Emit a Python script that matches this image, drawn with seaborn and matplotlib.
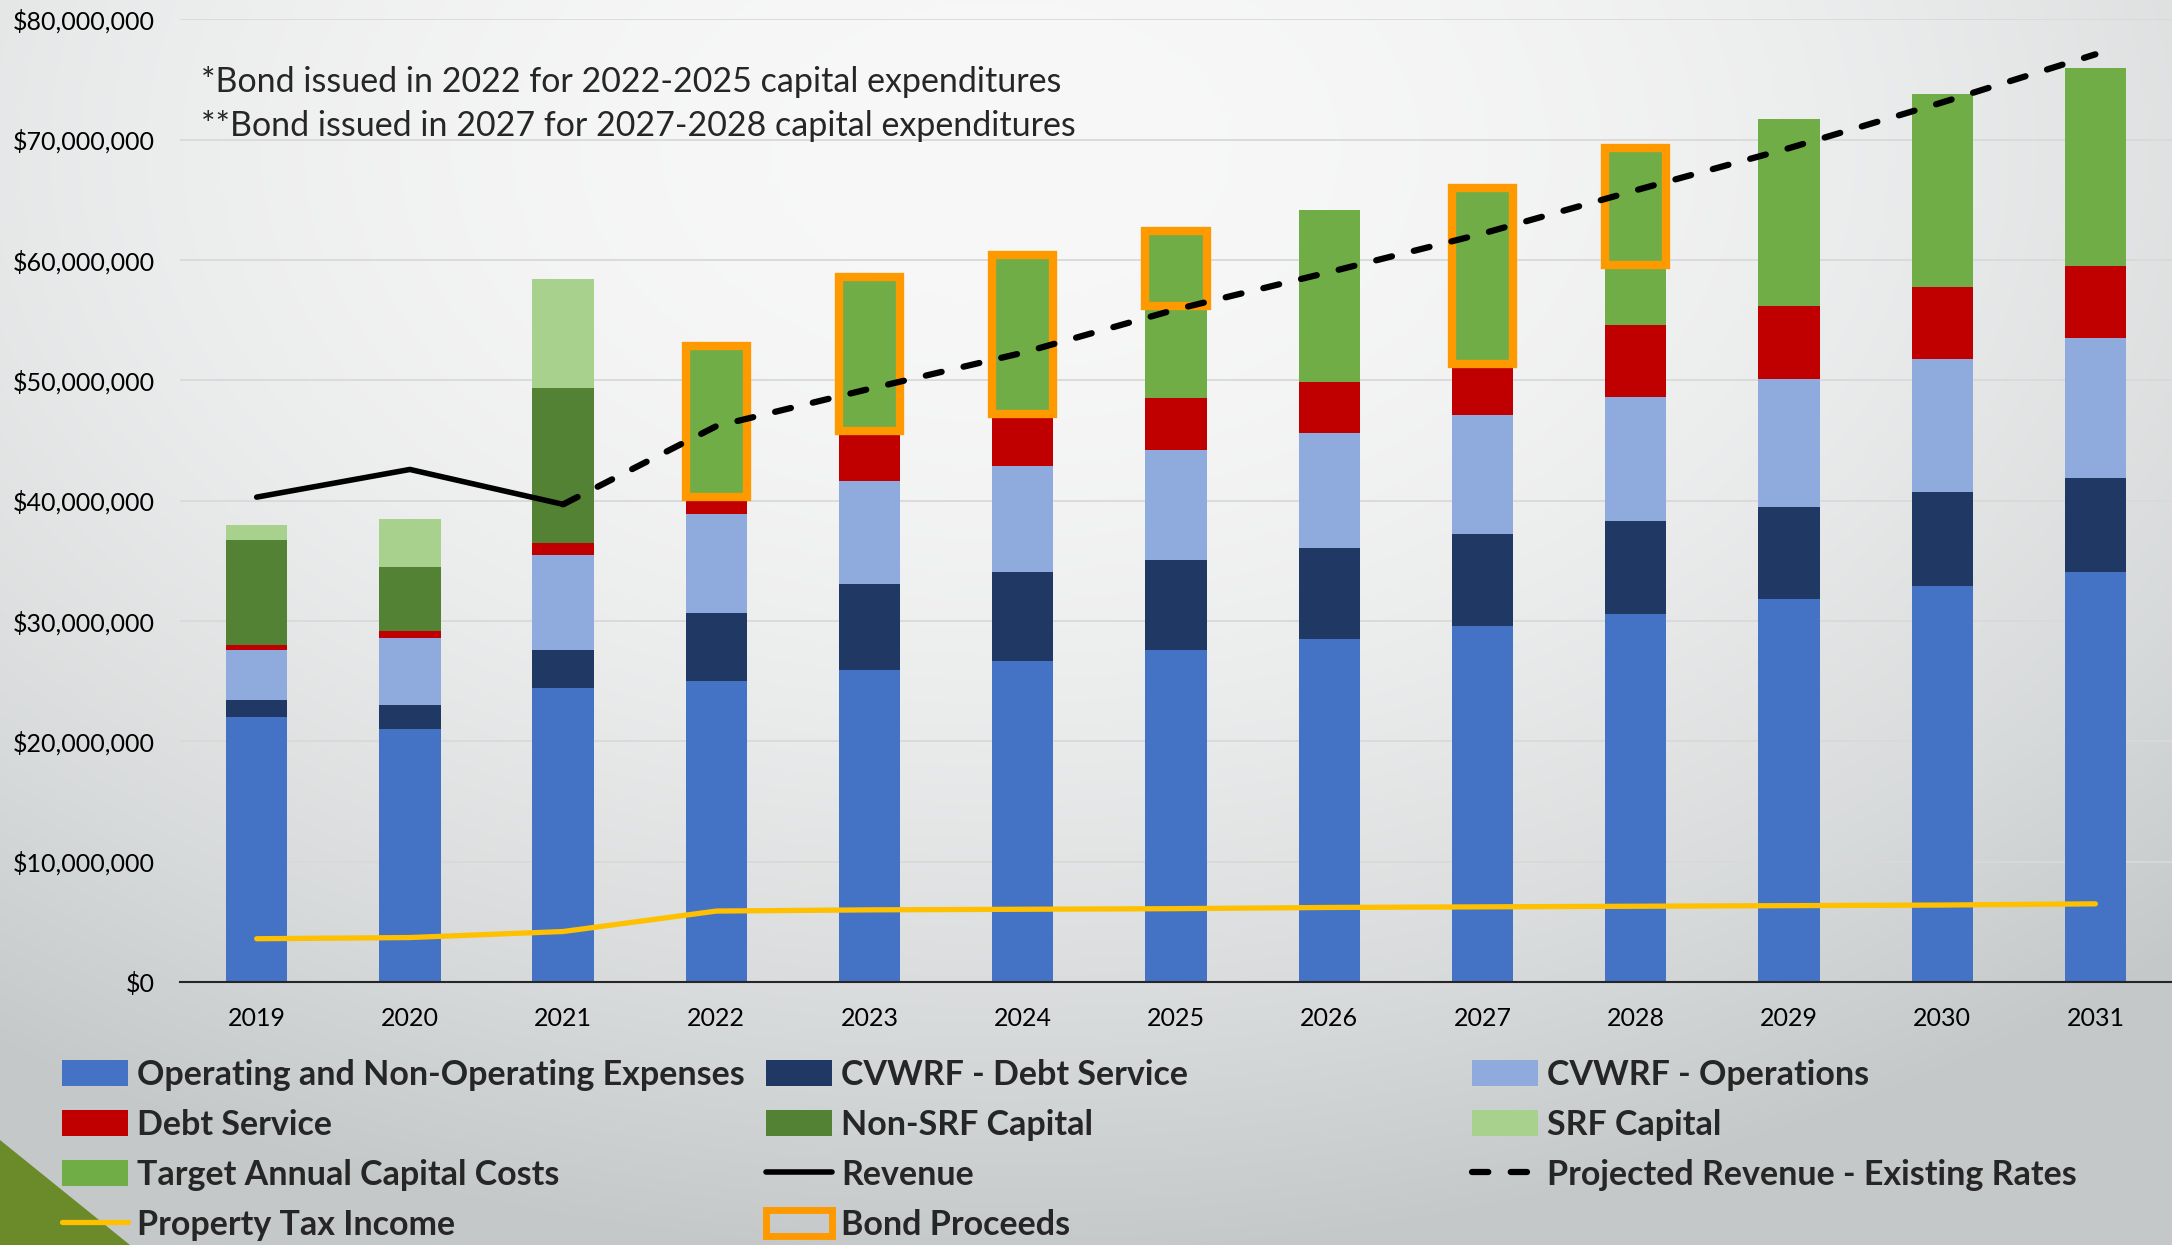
import numpy as np
import pandas as pd
import matplotlib
matplotlib.use("Agg")
import matplotlib.pyplot as plt
import seaborn as sns
from matplotlib.patches import Patch, Polygon
from matplotlib.lines import Line2D
from matplotlib.ticker import FuncFormatter

# ---- data (values in $ millions) ----
years = ["2019", "2020", "2021", "2022", "2023", "2024", "2025",
         "2026", "2027", "2028", "2029", "2030", "2031"]
ops_expenses = [22.0, 21.0, 24.4, 25.0, 25.9, 26.7, 27.6, 28.5, 29.6, 30.6, 31.8, 32.9, 34.1]
cvwrf_debt = [1.4, 2.0, 3.2, 5.7, 7.2, 7.4, 7.5, 7.6, 7.6, 7.7, 7.7, 7.8, 7.8]
cvwrf_ops = [4.2, 5.6, 7.9, 8.2, 8.5, 8.8, 9.1, 9.5, 9.9, 10.3, 10.6, 11.1, 11.6]
debt_service = [0.4, 0.6, 1.0, 1.4, 4.2, 4.3, 4.3, 4.3, 4.3, 6.0, 6.1, 6.0, 6.0]
non_srf_capital = [8.7, 5.3, 12.9, 0, 0, 0, 0, 0, 0, 0, 0, 0, 0]
srf_capital = [1.3, 4.0, 9.0, 0, 0, 0, 0, 0, 0, 0, 0, 0, 0]
target_capital = [0, 0, 0, 12.6, 12.8, 13.2, 13.9, 14.3, 14.6, 14.7, 15.5, 16.0, 16.5]
bond_proceeds = [0, 0, 0, 12.6, 12.8, 13.2, 6.2, 0, 14.6, 9.7, 0, 0, 0]
revenue = [40.3, 42.6, 39.7, None, None, None, None, None, None, None, None, None, None]
projected_revenue = [None, None, 39.7, 46.2, 49.3, 52.3, 55.9, 59.0, 62.2, 65.8, 69.3, 73.1, 77.1]
property_tax = [3.6, 3.7, 4.2, 5.9, 6.0, 6.05, 6.1, 6.2, 6.25, 6.3, 6.35, 6.4, 6.5]

notes = ["*Bond issued in 2022 for 2022-2025 capital expenditures",
         "**Bond issued in 2027 for 2027-2028 capital expenditures"]

stack_cols = ["Operating and Non-Operating Expenses", "CVWRF - Debt Service", "CVWRF - Operations",
              "Debt Service", "Non-SRF Capital", "SRF Capital", "Target Annual Capital Costs"]
stack_colors = ["#4472C4", "#1F3864", "#8FAADC", "#C00000", "#548235", "#A9D18E", "#70AD47"]
bond_color = "#FF9900"
tax_color = "#FFC000"

df = pd.DataFrame({"year": years,
                   stack_cols[0]: ops_expenses, stack_cols[1]: cvwrf_debt, stack_cols[2]: cvwrf_ops,
                   stack_cols[3]: debt_service, stack_cols[4]: non_srf_capital, stack_cols[5]: srf_capital,
                   stack_cols[6]: target_capital})
df["pos"] = np.arange(len(years))
cum = df[stack_cols].cumsum(axis=1) * 1e6
total = cum[stack_cols[-1]]

lines_df = pd.DataFrame({"pos": df["pos"],
                         "revenue": pd.to_numeric(pd.Series(revenue), errors="coerce") * 1e6,
                         "projected": pd.to_numeric(pd.Series(projected_revenue), errors="coerce") * 1e6,
                         "tax": np.array(property_tax) * 1e6})

# ---- style ----
sns.set_style("white")
plt.rcParams["font.family"] = ["Lato", "DejaVu Sans"]

fig = plt.figure(figsize=(21.72, 12.45), dpi=100)

# background gradient + corner triangle
W, H = 2172, 1245
yy, xx = np.mgrid[0:H, 0:W]
d = np.sqrt(((xx - 1000) / 1700.0) ** 2 + ((yy - 150) / 1100.0) ** 2)
t = np.clip(d, 0, 1) ** 2
light = np.array([0.972, 0.972, 0.972])
dark = np.array([0.773, 0.788, 0.792])
img = light + (dark - light) * t[..., None]
bg = fig.add_axes([0, 0, 1, 1], zorder=0)
bg.imshow(img, extent=[0, 1, 0, 1], aspect="auto", origin="upper")
bg.add_patch(Polygon([(0, 0), (0, 105 / 1245), (130 / 2172, 0)], closed=True,
                     facecolor="#6B8A2A", edgecolor="none", transform=bg.transAxes))
bg.axis("off")

ax = fig.add_axes([0.0829, 0.2112, 0.9171, 0.7732], zorder=1)
ax.set_facecolor("none")

# stacked bars: draw cumulative totals from top layer down
for col, color in reversed(list(zip(stack_cols, stack_colors))):
    sns.barplot(x=df["year"], y=cum[col], color=color, width=0.4, saturation=1,
                errorbar=None, linewidth=0, ax=ax)

# bond proceeds outlines
bond = np.array(bond_proceeds) * 1e6
mask = bond > 0
ax.bar(df["pos"][mask], bond[mask], bottom=(total - bond)[mask], width=0.4,
       fill=False, edgecolor=bond_color, linewidth=6, zorder=3)

# lines
sns.lineplot(data=lines_df.dropna(subset=["revenue"]), x="pos", y="revenue", color="black",
             linewidth=4, legend=False, ax=ax, zorder=4)
sns.lineplot(data=lines_df.dropna(subset=["projected"]), x="pos", y="projected", color="black",
             linewidth=4.5, legend=False, ax=ax, zorder=4)
proj_line = ax.lines[-1]
proj_line.set_dashes([2.6, 3.6])
proj_line.set_dash_capstyle("round")
sns.lineplot(data=lines_df, x="pos", y="tax", color=tax_color, linewidth=3.8,
             legend=False, ax=ax, zorder=4)

ax.set_xlim(-0.5, 12.5)
ax.set_ylim(0, 80e6)
ax.set_yticks(np.arange(0, 80e6 + 1, 10e6))
ax.yaxis.set_major_formatter(FuncFormatter(lambda v, p: f"${v:,.0f}"))
ax.set_xticks(df["pos"])
ax.set_xticklabels(years)
ax.set_xlabel("")
ax.set_ylabel("")
ax.tick_params(axis="both", length=0, labelsize=18, colors="black")
ax.tick_params(axis="y", pad=18)
ax.tick_params(axis="x", pad=18)
ax.yaxis.grid(True, color="#D9D9D9", linewidth=1.3)
ax.set_axisbelow(True)
for s in ["left", "top", "right"]:
    ax.spines[s].set_visible(False)
ax.spines["bottom"].set_color("#262626")
ax.spines["bottom"].set_linewidth(1.5)
ax.spines["bottom"].set_zorder(5)

# notes
fig.text(0.0925, 1 - 82 / 1245, notes[0], fontsize=24.5, va="center", ha="left")
fig.text(0.0925, 1 - 126 / 1245, notes[1], fontsize=24.5, va="center", ha="left")

# legend, three columns
def patch(i):
    return Patch(facecolor=stack_colors[i], edgecolor="none", label=stack_cols[i])

h_rev = Line2D([], [], color="black", linewidth=4, label="Revenue")
h_proj = Line2D([], [], color="black", linewidth=4.5, dashes=[2.6, 3.6], dash_capstyle="round",
                label="Projected Revenue - Existing Rates")
h_tax = Line2D([], [], color=tax_color, linewidth=3.8, solid_capstyle="round", label="Property Tax Income")
h_bond = Patch(facecolor="none", edgecolor=bond_color, linewidth=5, label="Bond Proceeds")

columns = [
    ([patch(0), patch(3), patch(6), h_tax], 0.0285),
    ([patch(1), patch(4), h_rev, h_bond], 0.3527),
    ([patch(2), patch(5), h_proj], 0.6777),
]
for handles, x in columns:
    fig.legend(handles=handles, loc="upper left", bbox_to_anchor=(x, 0.1495), frameon=False,
               prop={"weight": "bold", "size": 24.5}, handlelength=1.95, handleheight=0.82,
               handletextpad=0.25, labelspacing=0.53, borderpad=0, borderaxespad=0)

fig.savefig("out.png", dpi=100)
